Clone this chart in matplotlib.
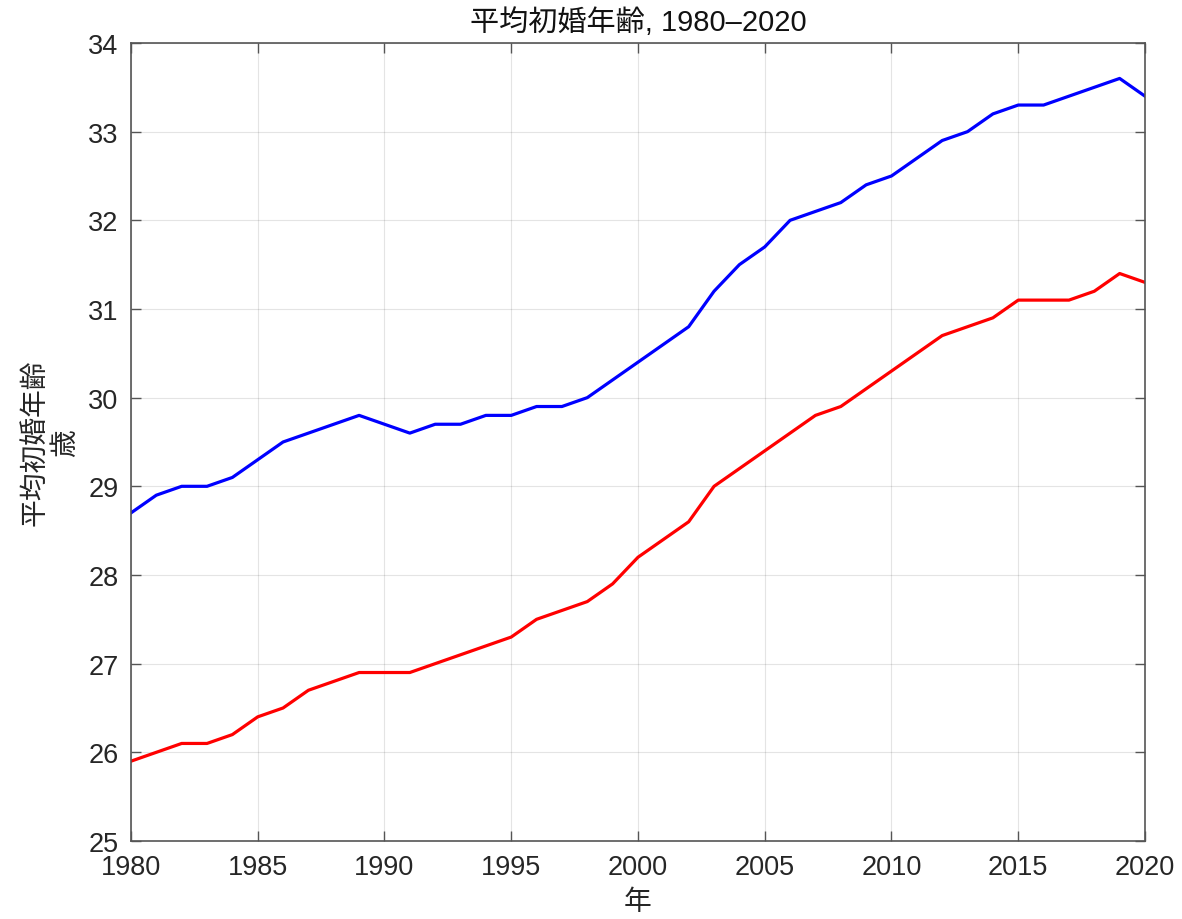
import matplotlib
matplotlib.use('Agg')
import matplotlib.pyplot as plt

plt.rcParams['font.family'] = ['Liberation Sans', 'Noto Sans CJK JP', 'DejaVu Sans']

years = list(range(1980, 2021))
# 夫 (blue)
husband = [28.7, 28.9, 29.0, 29.0, 29.1, 29.3, 29.5, 29.6, 29.7, 29.8,
           29.7, 29.6, 29.7, 29.7, 29.8, 29.8, 29.9, 29.9, 30.0, 30.2,
           30.4, 30.6, 30.8, 31.2, 31.5, 31.7, 32.0, 32.1, 32.2, 32.4,
           32.5, 32.7, 32.9, 33.0, 33.2, 33.3, 33.3, 33.4, 33.5, 33.6,
           33.4]
# 妻 (red)
wife = [25.9, 26.0, 26.1, 26.1, 26.2, 26.4, 26.5, 26.7, 26.8, 26.9,
        26.9, 26.9, 27.0, 27.1, 27.2, 27.3, 27.5, 27.6, 27.7, 27.9,
        28.2, 28.4, 28.6, 29.0, 29.2, 29.4, 29.6, 29.8, 29.9, 30.1,
        30.3, 30.5, 30.7, 30.8, 30.9, 31.1, 31.1, 31.1, 31.2, 31.4,
        31.3]
xticks = list(range(1980, 2021, 5))
yticks = list(range(25, 35))

fig = plt.figure(figsize=(11.82, 9.2), dpi=100)
ax = fig.add_axes([0.1108, 0.0848, 0.8579, 0.8674])

ax.plot(years, husband, color='#0000ff', linewidth=2.3)
ax.plot(years, wife, color='#ff0000', linewidth=2.3)

ax.set_xlim(1980, 2020)
ax.set_ylim(25, 34)
ax.set_xticks(xticks)
ax.set_yticks(yticks)
ax.grid(True, color='#262626', alpha=0.12, linewidth=0.8)
ax.tick_params(direction='in', top=True, right=True, length=7, width=1,
               color='#555555', labelsize=19.5, labelcolor='#262626')
ax.tick_params(axis='y', pad=9)
ax.tick_params(axis='x', pad=9.5)
for s in ax.spines.values():
    s.set_color('#555555')
    s.set_linewidth(1.2)

ax.set_title('平均初婚年齢, 1980–2020', fontsize=21, color='#111111', pad=9)
ax.set_xlabel('年', fontsize=20, color='#262626', labelpad=6)
ax.set_ylabel('平均初婚年齢\n歳', fontsize=20, color='#262626', labelpad=6, linespacing=1.25)

fig.savefig('out.png', dpi=100)
